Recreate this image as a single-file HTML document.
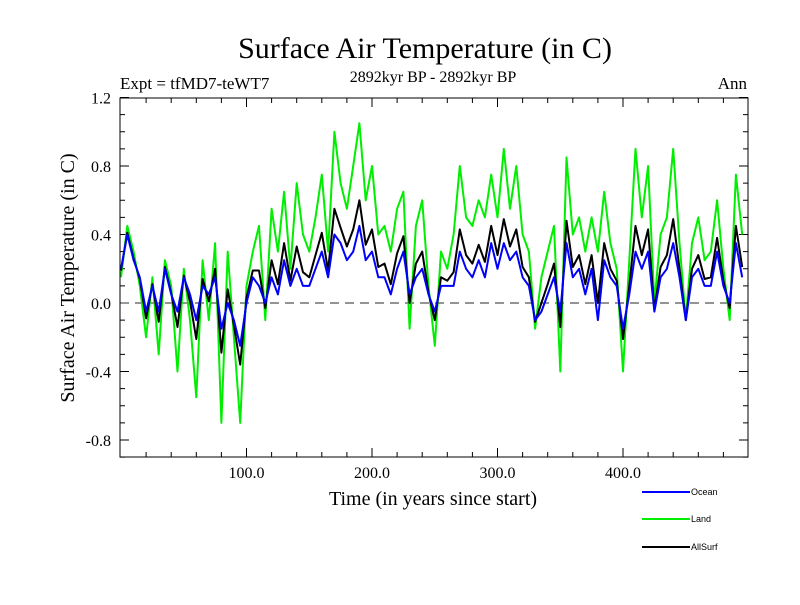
<!DOCTYPE html>
<html><head><meta charset="utf-8"><style>
body{margin:0;background:#fff;}
svg text{font-family:"Liberation Serif",serif;}
svg text.sans{font-family:"Liberation Sans",sans-serif;}
</style></head><body>
<svg id="c" width="800" height="600" xmlns="http://www.w3.org/2000/svg">
<text x="425" y="58" font-size="30" text-anchor="middle">Surface Air Temperature (in C)</text>
<text x="120" y="89" font-size="17">Expt = tfMD7-teWT7</text>
<text x="433" y="82" font-size="16" text-anchor="middle">2892kyr BP - 2892kyr BP</text>
<text x="747" y="89" font-size="17" text-anchor="end">Ann</text>
<text transform="translate(74,278) rotate(-90)" font-size="20" text-anchor="middle">Surface Air Temperature (in C)</text>
<text x="433" y="505" font-size="20" text-anchor="middle">Time (in years since start)</text>
<g id="ticks"></g>
<line x1="120" y1="303" x2="748" y2="303" stroke="#555" stroke-width="1.2" stroke-dasharray="9,6"/>
<g id="series"></g>
<rect x="120" y="98" width="628" height="359" fill="none" stroke="#000" stroke-width="1"/>
<g>
<line x1="642" y1="492" x2="690" y2="492" stroke="#0000ff" stroke-width="2"/>
<text class="sans" x="691" y="495" font-size="9">Ocean</text>
<line x1="642" y1="519" x2="690" y2="519" stroke="#00ee00" stroke-width="2"/>
<text class="sans" x="691" y="522" font-size="9">Land</text>
<line x1="642" y1="547" x2="690" y2="547" stroke="#000" stroke-width="2"/>
<text class="sans" x="691" y="550" font-size="9">AllSurf</text>
</g>
</svg>
<script>
const years=[];for(let i=0;i<100;i++)years.push(i*5);
const land=[0.15,0.45,0.3,0.1,-0.2,0.15,-0.3,0.25,0.1,-0.4,0.2,-0.1,-0.55,0.25,-0.1,0.35,-0.7,0.3,-0.2,-0.7,
0.1,0.3,0.45,-0.1,0.55,0.3,0.65,0.2,0.7,0.4,0.3,0.5,0.75,0.3,1.0,0.7,0.55,0.8,1.05,0.6,
0.8,0.4,0.45,0.3,0.55,0.65,-0.15,0.45,0.6,0.1,-0.25,0.3,0.2,0.4,0.8,0.5,0.45,0.6,0.5,0.75,
0.5,0.9,0.55,0.8,0.4,0.3,-0.15,0.15,0.3,0.45,-0.4,0.85,0.4,0.5,0.3,0.5,0.3,0.65,0.35,0.2,
-0.4,0.25,0.9,0.5,0.8,0.0,0.4,0.5,0.9,0.35,-0.1,0.35,0.5,0.25,0.3,0.6,0.2,-0.1,0.75,0.4];
const ocean=[0.2,0.4,0.25,0.15,-0.05,0.1,-0.05,0.2,0.05,-0.05,0.15,0.05,-0.1,0.1,0.05,0.15,-0.15,0.0,-0.1,-0.25,
0.0,0.15,0.1,0.0,0.15,0.05,0.25,0.1,0.2,0.1,0.1,0.2,0.3,0.15,0.4,0.35,0.25,0.3,0.45,0.25,
0.3,0.15,0.15,0.05,0.2,0.3,0.05,0.15,0.2,0.05,-0.05,0.1,0.1,0.1,0.3,0.2,0.15,0.25,0.15,0.35,
0.2,0.35,0.25,0.3,0.15,0.1,-0.1,-0.05,0.05,0.15,-0.05,0.35,0.15,0.2,0.05,0.2,-0.1,0.25,0.15,0.1,
-0.15,0.05,0.3,0.2,0.3,-0.05,0.15,0.2,0.35,0.15,-0.1,0.15,0.2,0.1,0.1,0.3,0.1,0.0,0.35,0.15];
const allsurf=[0.19,0.41,0.26,0.14,-0.09,0.11,-0.11,0.21,0.06,-0.14,0.16,0.01,-0.21,0.14,0.01,0.2,-0.29,0.08,-0.13,-0.36,
0.03,0.19,0.19,-0.03,0.25,0.11,0.35,0.13,0.33,0.18,0.15,0.28,0.41,0.19,0.55,0.44,0.33,0.43,0.6,0.34,
0.43,0.21,0.23,0.11,0.29,0.39,0.0,0.23,0.3,0.06,-0.1,0.15,0.13,0.18,0.43,0.28,0.23,0.34,0.24,0.45,
0.28,0.49,0.33,0.43,0.21,0.15,-0.11,0.0,0.11,0.23,-0.14,0.48,0.21,0.28,0.11,0.28,0.0,0.35,0.2,0.13,
-0.21,0.1,0.45,0.28,0.43,-0.04,0.21,0.28,0.49,0.2,-0.1,0.2,0.28,0.14,0.15,0.38,0.13,-0.03,0.45,0.21];
const yTickLabels=["-0.8","-0.4","0.0","0.4","0.8","1.2"];
const xTickLabels=["100.0","200.0","300.0","400.0"];
const NS="http://www.w3.org/2000/svg";
const X=t=>121+t*1.255;
const Y=v=>303-v*171.25;
const tg=document.getElementById('ticks');
function mk(tag,attrs,parent){const e=document.createElementNS(NS,tag);for(const k in attrs)e.setAttribute(k,attrs[k]);parent.appendChild(e);return e;}
for(let i=-9;i<=12;i++){const v=i/10,y=Y(v),maj=(i%4===0);const L=maj?9:5;
 const a=mk('line',{x1:120,y1:y,x2:120+L,y2:y,stroke:'#000'},tg);
 
 
 const b=mk('line',{x1:748,y1:y,x2:748-L,y2:y,stroke:'#000'},tg);
 
 }
yTickLabels.forEach(s=>{const t=mk('text',{x:111,y:Y(parseFloat(s))+6,'font-size':16,'text-anchor':'end'},tg);t.textContent=s;
 
 });
for(let yr=20;yr<500;yr+=20){const x=X(yr),maj=(yr%100===0);const L=maj?9:5;
 const a=mk('line',{x1:x,y1:457,x2:x,y2:457-L,stroke:'#000'},tg);
 
 
 const b=mk('line',{x1:x,y1:98,x2:x,y2:98+L,stroke:'#000'},tg);
 
 }
xTickLabels.forEach(s=>{const t=mk('text',{x:X(parseFloat(s)),y:478,'font-size':16,'text-anchor':'middle'},tg);t.textContent=s;
 
 });
const sg=document.getElementById('series');
function line(arr,color,name){const d=arr.map((v,i)=>(i?'L':'M')+X(years[i]).toFixed(1)+','+Y(v).toFixed(1)).join('');
 const p=mk('path',{d:d,fill:'none',stroke:color,'stroke-width':2,'stroke-linejoin':'round'},sg);
 
 }
line(land,'#00ee00','land-series');
line(allsurf,'#000','allsurf-series');
line(ocean,'#0000ff','ocean-series');
</script>
</body></html>
